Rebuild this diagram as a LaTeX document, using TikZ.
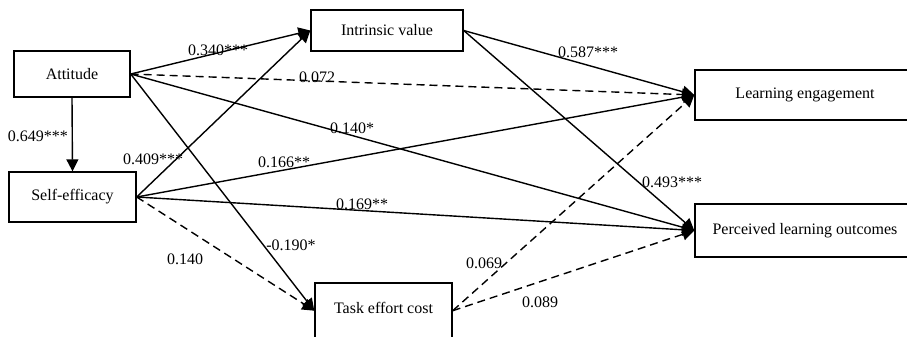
\documentclass[tikz,border=0pt]{standalone}
\usepackage{fontspec}
\setmainfont{Liberation Serif}
\usetikzlibrary{arrows.meta}
\tikzset{
  box/.style={draw, line width=1.4pt, inner sep=0pt, align=center, font=\fontsize{16}{19}\selectfont},
  lbl/.style={inner sep=0pt, font=\fontsize{16}{19}\selectfont},
  path/.style={line width=1.4pt, -{Triangle[length=12pt, width=12pt]}},
  ns/.style={path, dash pattern=on 8pt off 5pt},
}
\begin{document}
\begin{tikzpicture}[x=1pt, y=-1pt]
\clip (0,0) rectangle (907,337);
% boxes
\node[box, minimum width=116pt, minimum height=46pt] (att) at (72,74) {Attitude};
\node[box, minimum width=127pt, minimum height=50pt] (se) at (72.5,197) {Self-efficacy};
\node[box, minimum width=152pt, minimum height=41pt] (iv) at (387,30.5) {Intrinsic value};
\node[box, minimum width=137pt, text height=30pt, text depth=50pt, anchor=base] (tec) at (383.5,313) {Task effort cost};
\node[box, minimum width=220pt, minimum height=50pt] (le) at (805,95) {Learning engagement};
\node[box, minimum width=220pt, minimum height=53pt] (plo) at (805,230.5) {Perceived learning outcomes};
% paths
\draw[path] (att.south) -- (se.north);
\draw[path] (att.east) -- (iv.west);
\draw[ns] (att.east) -- (le.west);
\draw[path] (att.east) -- (plo.west);
\draw[path] (att.east) -- (tec.mid west);
\draw[path] (se.east) -- (iv.west);
\draw[path] (se.east) -- (le.west);
\draw[path] (se.east) -- (plo.west);
\draw[ns] (se.east) -- (tec.mid west);
\draw[path] (iv.east) -- (le.west);
\draw[path] (iv.east) -- (plo.west);
\draw[ns] (tec.mid east) -- (le.west);
\draw[ns] (tec.mid east) -- (plo.west);
% labels
\node[lbl] (l1) at (218,50) {0.340***};
\node[lbl] (l2) at (317,77) {0.072};
\node[lbl] (l3) at (352,128) {0.140*};
\node[lbl] (l4) at (38,136) {0.649***};
\node[lbl] (l5) at (153,159) {0.409***};
\node[lbl] (l6) at (284,162) {0.166**};
\node[lbl] (l7) at (291,245) {-0.190*};
\node[lbl] (l8) at (185,259) {0.140};
\node[lbl] (l9) at (362,204) {0.169**};
\node[lbl] (l10) at (588,52) {0.587***};
\node[lbl] (l11) at (672,182) {0.493***};
\node[lbl] (l12) at (484,263) {0.069};
\node[lbl] (l13) at (540,302) {0.089};
\end{tikzpicture}
\end{document}
